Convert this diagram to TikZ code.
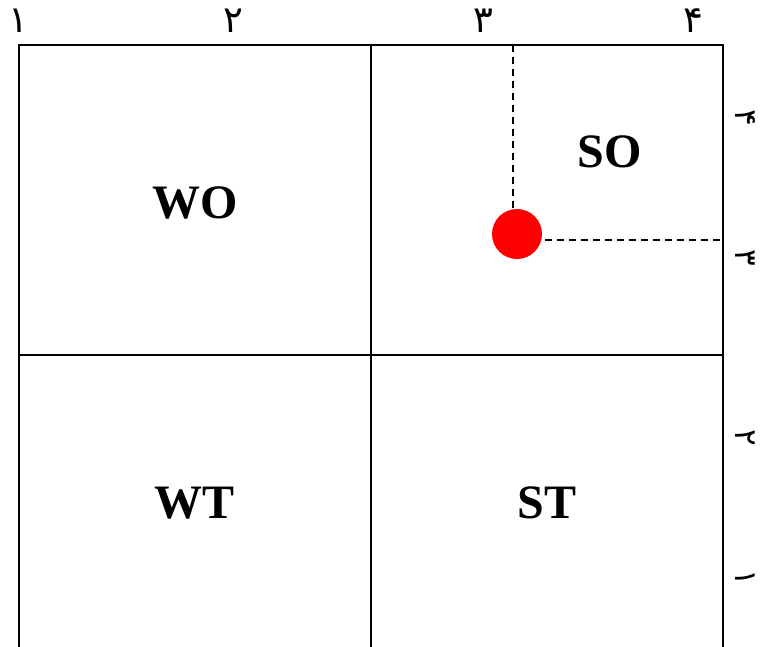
\documentclass[tikz,border=0pt]{standalone}
\usepackage{fontspec}
\setmainfont{Liberation Serif}
\newfontfamily\digitfont[Script=Arabic]{DejaVu Sans}
\begin{document}
\begin{tikzpicture}[x=1pt,y=-1pt,
  grid/.style={line width=2pt},
  quad/.style={font=\fontsize{48}{52}\selectfont\bfseries},
  dig/.style={font=\digitfont\fontsize{37}{40}\selectfont, inner sep=0pt},
  rdig/.style={font=\digitfont\fontsize{31}{34}\selectfont, inner sep=0pt, rotate=-90},
  guide/.style={dashed, line width=1.6pt, dash pattern=on 7pt off 5pt}]
\useasboundingbox (0,0) rectangle (761,646);
\clip (0,0) rectangle (761,646);
% grid
\coordinate (tl) at (19,45);
\coordinate (tm) at (371,45);
\coordinate (tr) at (723,45);
\coordinate (ml) at (19,355);
\coordinate (mr) at (723,355);
\coordinate (bl) at (19,650);
\coordinate (bm) at (371,650);
\coordinate (br) at (723,650);
\draw[grid] (bl) -- (tl) -- (tr) -- (br);
\draw[grid] (tm) -- (bm);
\draw[grid] (ml) -- (mr);
% quadrant labels
\node[quad] (wo) at (195,203) {WO};
\node[quad] (so) at (610,152) {SO};
\node[quad] (wt) at (195,503) {WT};
\node[quad] (st) at (547,503) {ST};
% top digits
\node[dig] (d1) at (18,21) {۱};
\node[dig] (d2) at (233,21) {۲};
\node[dig] (d3) at (483,21) {۳};
\node[dig] (d4) at (693,21) {۴};
% right digits rotated
\node[rdig] (r4) at (745,118) {۴};
\node[rdig] (r3) at (745,258) {۳};
\node[rdig] (r2) at (745,438) {۲};
\node[rdig] (r1) at (745,578) {۱};
% point
\node[circle, fill=red, inner sep=0pt, minimum size=50pt] (dot) at (517,234) {};
\coordinate (vtop) at (513,45);
\coordinate (vbot) at (513,209);
\coordinate (hleft) at (545,240);
\coordinate (hright) at (723,240);
\draw[guide] (vtop) -- (vbot);
\draw[guide] (hleft) -- (hright);
\end{tikzpicture}
\end{document}
